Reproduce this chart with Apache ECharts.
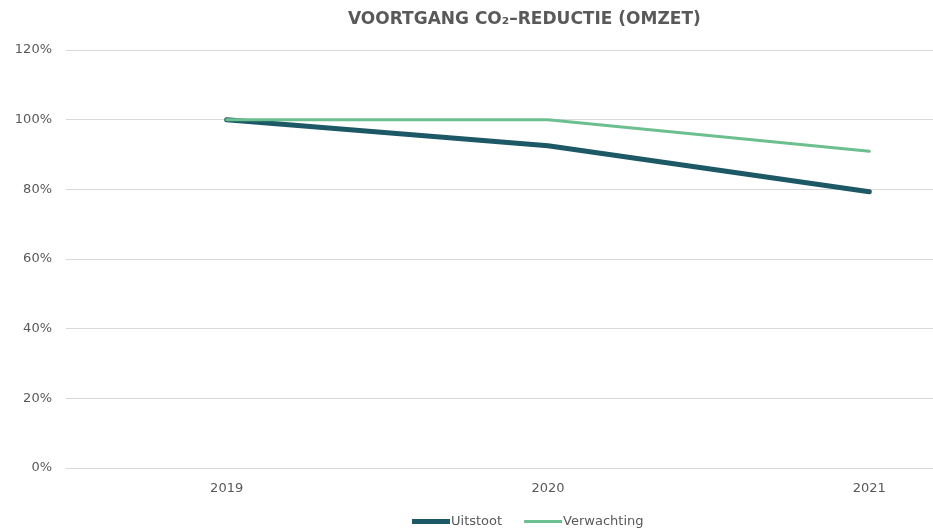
<!DOCTYPE html>
<html>
<head>
<meta charset="utf-8">
<script src="https://cdn.jsdelivr.net/npm/echarts@6/dist/echarts.min.js"></script>
<style>html,body{margin:0;padding:0;background:#fff;overflow:hidden;width:933px;height:530px}#c{width:1030px;height:530px}</style>
</head>
<body>
<div id="c"></div>
<script>
const categories = ['2019', '2020', '2021'];
const uitstoot = [100, 92.5, 79.3];
const verwachting = [100, 100, 90.9];
const yTicks = [0, 20, 40, 60, 80, 100, 120];

const FONT = '"DejaVu Sans", Verdana, sans-serif';
const chart = echarts.init(document.getElementById('c'));
chart.setOption({
  animation: false,
  backgroundColor: '#fff',
  title: {
    text: 'VOORTGANG CO₂–REDUCTIE (OMZET)',
    left: 343, top: 6,
    textStyle: { fontFamily: FONT, fontWeight: 'bold', fontSize: 17, color: '#595959' }
  },
  legend: {
    left: 407, top: 510,
    itemWidth: 38, itemHeight: 5, itemGap: 22, icon: 'rect',
    textStyle: { fontFamily: FONT, fontSize: 13, color: '#595959', padding: [0, 0, 0, -4] },
    data: [
      { name: 'Uitstoot', icon: 'rect' },
      { name: 'Verwachting', icon: 'path://M0,1h38v3h-38z M0,0h0.01v0.01h-0.01z M0,5h0.01v-0.01h-0.01z' }
    ]
  },
  grid: { left: 66, right: 0, top: 50, bottom: 62, containLabel: false },
  xAxis: {
    type: 'category', data: categories, boundaryGap: true,
    axisLine: { lineStyle: { color: '#d9d9d9' } },
    axisTick: { show: false },
    axisLabel: { fontFamily: FONT, fontSize: 13, color: '#595959', margin: 14 }
  },
  yAxis: {
    type: 'value', min: yTicks[0], max: yTicks[yTicks.length - 1], interval: 20,
    axisLine: { show: false }, axisTick: { show: false },
    splitLine: { lineStyle: { color: '#d9d9d9' } },
    axisLabel: { fontFamily: FONT, fontSize: 13, color: '#595959', margin: 14, formatter: v => v + '%' }
  },
  series: [
    { name: 'Uitstoot', type: 'line', data: uitstoot, symbol: 'none',
      lineStyle: { color: '#1d5866', width: 5, cap: 'round' }, itemStyle: { color: '#1d5866' } },
    { name: 'Verwachting', type: 'line', data: verwachting, symbol: 'none',
      lineStyle: { color: '#6cbf8f', width: 3, cap: 'round' }, itemStyle: { color: '#6cbf8f' } }
  ]
});
</script>
</body>
</html>
